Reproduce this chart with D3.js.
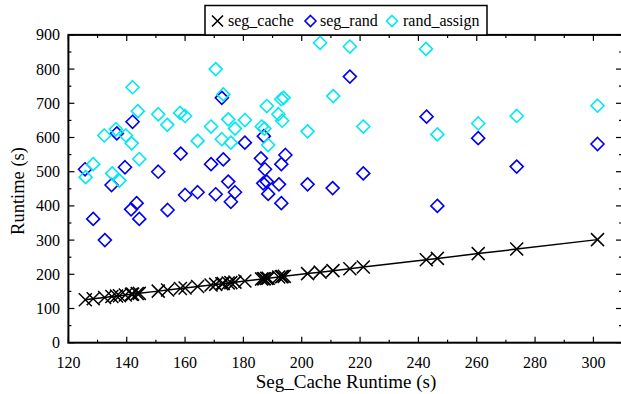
<!DOCTYPE html>
<html><head><meta charset="utf-8">
<script src="https://cdn.jsdelivr.net/npm/d3@7"></script>
<style>body{margin:0;background:#fff}svg{display:block}</style>
</head><body>
<svg id="c" width="621" height="394"></svg>
<script>
// seg_cache runtime (x) — seg_cache plotted against itself
const segCache = [125.8,128.5,132.4,134.9,136.5,137.5,139.5,141.6,142,143.6,144.3,150.8,154,158.4,160,164.3,168.9,170.5,172.6,173.1,174.8,175.7,177.1,180.5,186.2,186.8,187.2,188,188.5,192.1,193,193.3,194,202,206.3,210.7,216.5,221.1,242.7,246.5,260.5,273.7,301.4];
// seg_rand
const segRandX = [125.7,128.5,132.5,134.8,136.6,139.4,141.5,142,143.4,144.3,150.8,154,158.5,160,164.3,168.9,170.5,172.6,173.1,174.8,175.7,177.1,180.5,186,186.8,187,187.4,188,188.5,192.2,193,193,194.4,202,210.6,216.5,221.1,242.8,246.5,260.5,273.7,301.4];
const segRandY = [507,362,300,461,612,513,390,646,408,362,500,388,553,432,440,522,434,716,536,471,412,440,585,539,466,604,507,471,435,463,522,408,549,463,452,778,495,661,400,598,515,581];
// rand_assign
const randAssignX = [125.9,128.5,132.3,135,136.3,137.5,139.7,141.7,142,143.8,144.3,150.8,153.9,158.3,160,164.3,168.9,170.5,173.1,172.6,174.8,175.7,177.1,180.5,186.3,187.2,188,188.5,192,193.3,193,193.8,202,206.3,210.8,216.5,221.1,242.6,246.5,260.5,273.7,301.4];
const randAssignY = [484,522,606,495,624,474,606,583,747,677,537,668,637,672,663,590,632,800,726,595,653,585,626,651,632,626,692,578,668,649,712,716,618,877,721,866,632,859,609,641,663,693];
const xTicks = [120,140,160,180,200,220,240,260,280,300];
const yTicks = [0,100,200,300,400,500,600,700,800,900];
const seriesNames = ["seg_cache","seg_rand","rand_assign"];
const colors = {seg_cache:"#000000", seg_rand:"#0000f0", rand_assign:"#00e8f0"};
const FONT = "'Liberation Serif', 'Times New Roman', serif";

const svg = d3.select("#c");
const L=68.4, R=622, T=34.9, B=342.7;
const x = d3.scaleLinear().domain([120,309.8]).range([L,R]);
const y = d3.scaleLinear().domain([0,900]).range([B,T]);

// ticks (inward, mirrored)
const xMinor = d3.range(130,310,20), yMinor = d3.range(50,900,100);
const g = svg.append("g").attr("stroke","#000").attr("stroke-width",1.2);
xTicks.forEach(v=>{g.append("line").attr("x1",x(v)).attr("x2",x(v)).attr("y1",B).attr("y2",B-6);
  g.append("line").attr("x1",x(v)).attr("x2",x(v)).attr("y1",T).attr("y2",T+6);});
xMinor.forEach(v=>{g.append("line").attr("x1",x(v)).attr("x2",x(v)).attr("y1",B).attr("y2",B-3);
  g.append("line").attr("x1",x(v)).attr("x2",x(v)).attr("y1",T).attr("y2",T+3);});
yTicks.forEach(v=>{g.append("line").attr("x1",L).attr("x2",L+6).attr("y1",y(v)).attr("y2",y(v));
  g.append("line").attr("x1",R).attr("x2",R-6).attr("y1",y(v)).attr("y2",y(v));});
yMinor.forEach(v=>{g.append("line").attr("x1",L).attr("x2",L+3).attr("y1",y(v)).attr("y2",y(v));
  g.append("line").attr("x1",R).attr("x2",R-3).attr("y1",y(v)).attr("y2",y(v));});
svg.append("rect").attr("x",L).attr("y",T).attr("width",R-L).attr("height",B-T)
  .attr("fill","none").attr("stroke","#000").attr("stroke-width",2);

// tick labels
svg.append("g").selectAll("text").data(xTicks).join("text")
  .attr("x",d=>x(d)).attr("y",368).attr("text-anchor","middle").attr("font-size",16).style("font-family",FONT).text(d=>d);
svg.append("g").selectAll("text").data(yTicks).join("text")
  .attr("x",60).attr("y",d=>y(d)+5.5).attr("text-anchor","end").attr("font-size",16).style("font-family",FONT).text(d=>d);

// axis titles
svg.append("text").attr("x",346).attr("y",388).attr("text-anchor","middle").attr("font-size",19).style("font-family",FONT).text("Seg_Cache Runtime (s)");
svg.append("text").attr("transform","translate(24,191) rotate(-90)").attr("text-anchor","middle").attr("font-size",18.5).style("font-family",FONT).text("Runtime (s)");

const diamond = (s)=>`M0,${-s}L${s},0L0,${s}L${-s},0Z`;
const cross = (s)=>`M${-s},${-s}L${s},${s}M${-s},${s}L${s},${-s}`;

// seg_cache line + X markers
const pts = segCache.map(v=>[v,v]);
svg.append("path").datum(pts).attr("fill","none").attr("stroke","#000").attr("stroke-width",1.5)
  .attr("d",d3.line().x(d=>x(d[0])).y(d=>y(d[1])));
svg.append("g").selectAll("path").data(pts).join("path")
  .attr("transform",d=>`translate(${x(d[0])},${y(d[1])})`).attr("d",cross(6.5))
  .attr("fill","none").attr("stroke","#000").attr("stroke-width",1.5);

// seg_rand
svg.append("g").selectAll("path").data(segRandX.map((v,i)=>[v,segRandY[i]])).join("path")
  .attr("transform",d=>`translate(${x(d[0])},${y(d[1])})`).attr("d",diamond(6.5))
  .attr("fill","none").attr("stroke",colors.seg_rand).attr("stroke-width",1.6);
// rand_assign
svg.append("g").selectAll("path").data(randAssignX.map((v,i)=>[v,randAssignY[i]])).join("path")
  .attr("transform",d=>`translate(${x(d[0])},${y(d[1])})`).attr("d",diamond(6.5))
  .attr("fill","none").attr("stroke",colors.rand_assign).attr("stroke-width",1.6);

// legend
const lg = svg.append("g");
lg.append("rect").attr("x",205).attr("y",5.5).attr("width",282).attr("height",29.5)
  .attr("fill","#fff").attr("stroke","#000").attr("stroke-width",1.5);
const items = [{n:"seg_cache",mx:217.5,tx:228},{n:"seg_rand",mx:310.5,tx:320},{n:"rand_assign",mx:392,tx:403}];
items.forEach(it=>{
  lg.append("path").attr("transform",`translate(${it.mx},21)`)
    .attr("d", it.n==="seg_cache"?cross(5.5):diamond(5.5))
    .attr("fill","none").attr("stroke",colors[it.n]).attr("stroke-width",1.6);
  lg.append("text").attr("x",it.tx).attr("y",26).attr("font-size",16).style("font-family",FONT).text(it.n);
});
</script>
</body></html>
